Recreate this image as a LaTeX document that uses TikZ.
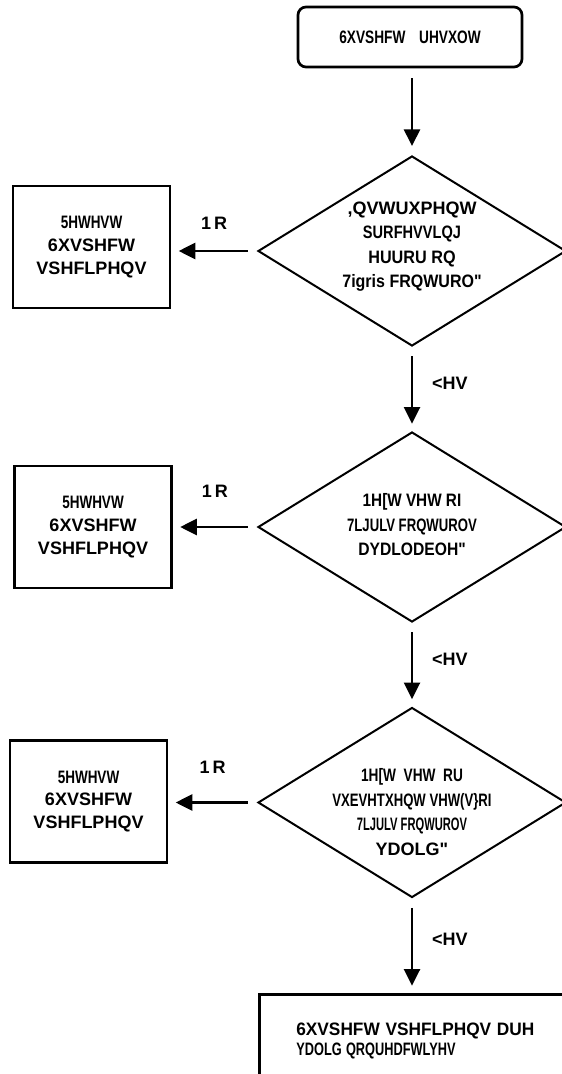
\documentclass[tikz,border=0pt]{standalone}
\usepackage{fontspec}
\setmainfont{Liberation Sans}
\usepackage{graphicx}
\usetikzlibrary{shapes.geometric, arrows.meta}

\newcommand{\nar}[2]{\scalebox{#1}[1]{#2}}

\begin{document}
\begin{tikzpicture}[x=0.75pt,y=-0.75pt,>={Triangle[length=12.5pt,width=12pt]},
 font=\fontsize{13.5}{18.4}\selectfont\bfseries,
 flow/.style={->,line width=2pt,shorten <=7pt,shorten >=5.5pt},
 decision/.style={diamond,draw,line width=1.5pt,minimum width=231pt,
   minimum height=142.5pt,inner sep=0pt,aspect=1.6},
 dtext/.style={align=center,inner sep=0pt},
 result/.style={rectangle,draw,line width=2pt,minimum width=117.75pt,
   minimum height=91.5pt,align=center,font=\fontsize{13.5}{17}\selectfont\bfseries}]
\useasboundingbox (0,0) rectangle (561,1074);

\node[draw,rounded corners=6pt,line width=2pt,minimum width=168pt,minimum height=45pt]
  (start) at (410,37) {\nar{0.76}{6XVSHFW\quad UHVXOW}};

% decisions, text set on top of the shapes
\node[decision] (d1) at (412,251) {};
\node[decision] (d2) at (412,527) {};
\node[decision] (d3) at (412,802.5) {};
\node[dtext] (t1) at ([yshift=3.4pt]d1.center) {,QVWUXPHQW\\ \nar{0.81}{SURFHVVLQJ}\\
  \nar{0.9}{HUURU RQ}\\ \nar{0.89}{7igris FRQWURO\textquotedbl}};
\node[dtext] (t2) at ([yshift=1.5pt]d2.center) {\nar{0.85}{1H[W VHW RI}\\
  \nar{0.73}{7LJULV FRQWUROV}\\ \nar{0.87}{DYDLODEOH\textquotedbl}};
\node[dtext] (t3) at ([yshift=-7pt]d3.center) {\nar{0.76}{1H[W\ \ VHW\ \ RU}\\
  \nar{0.73}{VXEVHTXHQW VHW(V\}RI}\\ \nar{0.62}{7LJULV FRQWUROV}\\ YDOLG\textquotedbl};

\foreach \b/\x/\y in {b1/91.5/247, b2/93/527, b3/88.5/801.5}
  \node[result] (\b) at (\x,\y) {\nar{0.75}{5HWHVW}\\ 6XVSHFW\\ VSHFLPHQV};

\node[draw,line width=2pt,anchor=north west,text width=260pt,
  align=left,inner xsep=27.75pt,inner ysep=21.4pt,font=\fontsize{13.5}{15}\selectfont\bfseries]
  (end) at (258,993) {\nar{0.96}{6XVSHFW VSHFLPHQV DUH}\\ \nar{0.71}{YDOLG QRQUHDFWLYHV}};

\draw[flow,shorten <=7.5pt,shorten >=6.75pt] (start.south -| d1.north) -- (d1.north);
\foreach \s/\t in {d1/d2, d2/d3, d3/end}
  \draw[flow] (\s.south) -- (\s.south |- \t.north)
    node[pos=0.43,right=14pt,inner sep=0pt] {<HV};
\foreach \d/\b/\h in {d1/b1/15pt, d2/b2/21pt, d3/b3/21pt}
  \draw[flow] (\d.west) -- (\d.west -| \b.east)
    node[midway,above=\h,inner sep=0pt] {1\,R};
\end{tikzpicture}
\end{document}
